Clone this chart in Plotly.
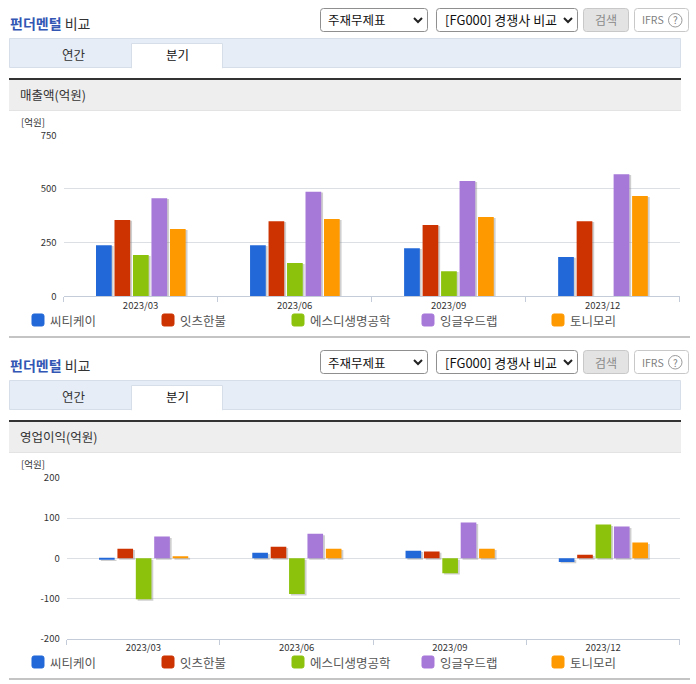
import plotly.graph_objects as go

W = 696
H = 684

periods = ["2023/03", "2023/06", "2023/09", "2023/12"]
companies = ["씨티케이", "잇츠한불", "에스디생명공학", "잉글우드랩", "토니모리"]
colors = ["#2268d8", "#cc3300", "#8cc20c", "#a678d8", "#ff9900"]

# 매출액
sales_ctk = [238, 238, 224, 183]
sales_its = [356, 350, 332, 350]
sales_sd = [192, 155, 117, 0]
sales_english = [457, 487, 537, 569]
sales_tony = [313, 360, 369, 467]
sales_ticks = [0, 250, 500, 750]
sales_labels = ["0", "250", "500", "750"]

# 영업이익
profit_ctk = [-3, 14, 19, -9]
profit_its = [24, 29, 17, 9]
profit_sd = [-102, -89, -37, 84]
profit_english = [54, 61, 89, 79]
profit_tony = [5, 24, 24, 39]
profit_ticks = [-200, -100, 0, 100, 200]
profit_labels = ["-200", "-100", "0", "100", "200"]

FONT = "Noto Sans CJK KR"
TEXT = "#333333"

fig = go.Figure()
shapes = []
notes = []


def px(x):
    return x / W


def py(y):
    return 1 - y / H


def rect(x0, y0, x1, y1, fill, line=None):
    shapes.append(dict(type="rect", xref="paper", yref="paper", layer="below",
                       x0=px(x0), y0=py(y0), x1=px(x1), y1=py(y1),
                       fillcolor=fill, line=dict(color=line or fill, width=1 if line else 0)))


def round_rect(x0, y0, x1, y1, fill, line, r=3):
    # rounded box drawn as svg path in paper coords
    p = "M %f,%f" % (px(x0 + r), py(y0))
    p += " L %f,%f Q %f,%f %f,%f" % (px(x1 - r), py(y0), px(x1), py(y0), px(x1), py(y0 + r))
    p += " L %f,%f Q %f,%f %f,%f" % (px(x1), py(y1 - r), px(x1), py(y1), px(x1 - r), py(y1))
    p += " L %f,%f Q %f,%f %f,%f" % (px(x0 + r), py(y1), px(x0), py(y1), px(x0), py(y1 - r))
    p += " L %f,%f Q %f,%f %f,%f Z" % (px(x0), py(y0 + r), px(x0), py(y0), px(x0 + r), py(y0))
    shapes.append(dict(type="path", xref="paper", yref="paper", layer="below", path=p,
                       fillcolor=fill, line=dict(color=line, width=1)))


def chevron(x, y):
    p = "M %f,%f L %f,%f L %f,%f" % (px(x - 4), py(y - 2), px(x), py(y + 2), px(x + 4), py(y - 2))
    shapes.append(dict(type="path", xref="paper", yref="paper", path=p,
                       line=dict(color="#222222", width=2)))


def text(x, y, s, size=12, color=TEXT, anchor="left"):
    notes.append(dict(xref="paper", yref="paper", x=px(x), y=py(y), text=s, showarrow=False,
                      xanchor=anchor, yanchor="middle", borderpad=0,
                      font=dict(family=FONT, size=size, color=color)))


def panel(dy, header, unit_y, legend_y, bottom_y):
    text(9, 23 + dy, "<span style='color:#3256b4'><b>펀더멘털</b></span> 비교", size=14)

    round_rect(320.5, 8.5 + dy, 427.5, 31.5 + dy, "#ffffff", "#8f8f8f")
    text(327, 20 + dy, "주재무제표", size=12.5, color="#111111")
    chevron(418, 20 + dy)
    round_rect(436.5, 8.5 + dy, 577.5, 31.5 + dy, "#ffffff", "#8f8f8f")
    text(444, 20 + dy, "[FG000] 경쟁사 비교", size=13, color="#111111")
    chevron(568, 20 + dy)
    round_rect(583.5, 8.5 + dy, 628.5, 31.5 + dy, "#e3e3e3", "#c8c8c8")
    text(606, 20 + dy, "검색", size=12, color="#8a8a8a", anchor="center")
    round_rect(634.5, 8.5 + dy, 688.5, 31.5 + dy, "#ffffff", "#c8c8c8")
    text(641, 20 + dy, "IFRS", size=10.5, color="#808080")
    shapes.append(dict(type="circle", xref="paper", yref="paper",
                       x0=px(668.5), y0=py(13.5 + dy), x1=px(682), y1=py(27 + dy),
                       line=dict(color="#9a9a9a", width=1)))
    text(675.2, 20 + dy, "?", size=10, color="#808080", anchor="center")

    rect(9.5, 38.5 + dy, 680.5, 67.5 + dy, "#e7edf7", "#d6dee9")
    rect(131.5, 43.5 + dy, 222.5, 68 + dy, "#ffffff", "#d6dee9")
    rect(132, 66 + dy, 222, 69 + dy, "#ffffff")
    text(74, 54 + dy, "연간", size=12.5, anchor="center")
    text(177, 55 + dy, "분기", size=12.5, color="#111111", anchor="center")

    rect(9, 78 + dy, 681, 80 + dy, "#333333")
    rect(9, 80 + dy, 681, 110 + dy, "#eeeeee")
    rect(9, 110 + dy, 681, 111 + dy, "#e3e3e3")
    text(19, 95 + dy, header, size=12.5)
    text(20, unit_y, "[억원]", size=9.5)

    for i, name in enumerate(companies):
        lx = 32 + 130 * i
        round_rect(lx, legend_y - 6, lx + 12, legend_y + 6, colors[i], colors[i], r=2)
        text(lx + 17, legend_y, name, size=12.5, color="#555555")
    rect(9, bottom_y - 1, 690, bottom_y + 1, "#c4c4c4")


def bars(series, xa, ya, drop):
    width = 0.102
    pitch = 0.12
    start = -0.289
    # gray shadow first, a little right of and below each bar
    for i, vals in enumerate(series):
        fig.add_trace(go.Bar(x=periods, y=vals, base=-drop, width=width, offset=start + i * pitch + 0.012,
                             marker=dict(color="rgba(130,130,130,0.38)", line=dict(width=0)),
                             xaxis=xa, yaxis=ya, showlegend=False, hoverinfo="skip"))
    for i, vals in enumerate(series):
        fig.add_trace(go.Bar(x=periods, y=vals, name=companies[i], width=width, offset=start + i * pitch,
                             marker=dict(color=colors[i], line=dict(width=0)),
                             xaxis=xa, yaxis=ya, showlegend=False))


bars([sales_ctk, sales_its, sales_sd, sales_english, sales_tony], "x", "y", 4)
bars([profit_ctk, profit_its, profit_sd, profit_english, profit_tony], "x2", "y2", 3.5)

panel(0, "매출액(억원)", 122, 320, 337)
panel(342, "영업이익(억원)", 464, 662, 679)

x_style = dict(type="category", range=[-0.5, 3.5], tickson="boundaries", ticks="outside", ticklen=5,
               tickcolor="#c3ccd8", showline=True, linecolor="#c3ccd8", linewidth=1, showgrid=False,
               zeroline=False, tickfont=dict(family=FONT, size=9.5, color=TEXT), fixedrange=True,
               automargin=False)
y_style = dict(showgrid=True, gridcolor="#dcdfe4", gridwidth=1, zeroline=False, showline=False, ticks="",
               tickfont=dict(family=FONT, size=9.5, color=TEXT), ticklabelstandoff=6, fixedrange=True,
               automargin=False)

fig.update_layout(
    width=W,
    height=H,
    margin=dict(l=0, r=0, t=0, b=0, pad=0, autoexpand=False),
    paper_bgcolor="#ffffff",
    plot_bgcolor="rgba(0,0,0,0)",
    barmode="overlay",
    showlegend=False,
    shapes=shapes,
    annotations=notes,
    xaxis=dict(domain=[px(63.5), px(679.7)], anchor="y", **x_style),
    yaxis=dict(domain=[py(296.3), py(135.3)], anchor="x", range=[0, 750], tickvals=sales_ticks,
               ticktext=sales_labels, **y_style),
    xaxis2=dict(domain=[px(66.7), px(679.7)], anchor="y2", **x_style),
    yaxis2=dict(domain=[py(638.8), py(477.8)], anchor="x2", range=[-200, 200], tickvals=profit_ticks,
                ticktext=profit_labels, **y_style),
)

fig.write_html("out.html", config=dict(displayModeBar=False),
               post_script="document.body.style.margin='0';")
